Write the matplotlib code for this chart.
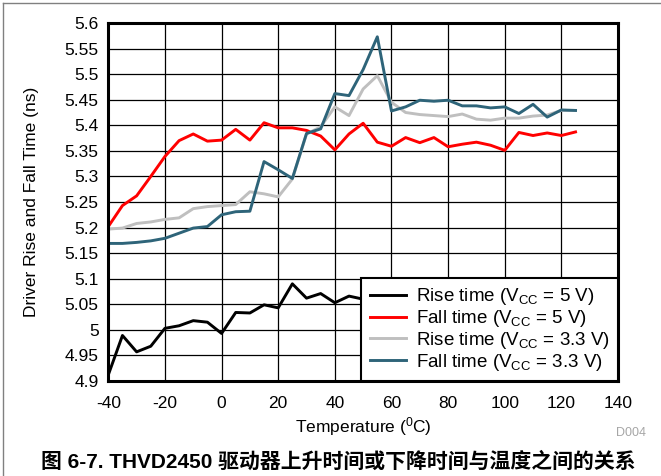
import matplotlib
matplotlib.use("Agg")
import matplotlib.pyplot as plt
from matplotlib.lines import Line2D

plt.rcParams['font.family'] = ['Liberation Sans', 'Noto Sans CJK SC', 'DejaVu Sans']
plt.rcParams['mathtext.fontset'] = 'custom'
plt.rcParams['mathtext.rm'] = 'Liberation Sans'
plt.rcParams['mathtext.it'] = 'Liberation Sans:italic'
plt.rcParams['mathtext.bf'] = 'Liberation Sans:bold'
plt.rcParams['axes.unicode_minus'] = False

temps = list(range(-40, 130, 5))
rise_5v_temps = list(range(-40, 60, 5))
rise_5v = [4.912, 4.989, 4.957, 4.968, 5.003, 5.008, 5.018, 5.015, 4.993, 5.034,
           5.033, 5.049, 5.043, 5.090, 5.062, 5.071, 5.053, 5.066, 5.060, 5.065]
fall_5v = [5.202, 5.243, 5.262, 5.300, 5.339, 5.370, 5.383, 5.369, 5.371, 5.392,
           5.371, 5.405, 5.395, 5.395, 5.390, 5.379, 5.352, 5.383, 5.404, 5.367,
           5.359, 5.376, 5.366, 5.376, 5.358, 5.363, 5.367, 5.361, 5.351, 5.386,
           5.380, 5.385, 5.380, 5.387]
rise_33v = [5.197, 5.199, 5.208, 5.211, 5.216, 5.219, 5.237, 5.241, 5.243, 5.245,
            5.270, 5.266, 5.260, 5.295, 5.383, 5.397, 5.436, 5.419, 5.471, 5.497,
            5.445, 5.425, 5.421, 5.419, 5.417, 5.422, 5.412, 5.410, 5.414, 5.414,
            5.418, 5.420, 5.429, 5.429]
fall_33v = [5.169, 5.169, 5.171, 5.174, 5.179, 5.189, 5.199, 5.202, 5.225, 5.231,
            5.232, 5.329, 5.313, 5.296, 5.384, 5.393, 5.462, 5.458, 5.509, 5.573,
            5.428, 5.436, 5.449, 5.447, 5.449, 5.438, 5.438, 5.434, 5.436, 5.423,
            5.441, 5.416, 5.430, 5.429]

labels = [r'Rise time (V$_\mathregular{CC}$ = 5 V)',
          r'Fall time (V$_\mathregular{CC}$ = 5 V)',
          r'Rise time (V$_\mathregular{CC}$ = 3.3 V)',
          r'Fall time (V$_\mathregular{CC}$ = 3.3 V)']
colors = ['#000000', '#FF0000', '#BFBFBF', '#2E6479']

xticks = list(range(-40, 141, 20))
yticks = [4.9, 4.95, 5.0, 5.05, 5.1, 5.15, 5.2, 5.25, 5.3, 5.35, 5.4, 5.45, 5.5, 5.55, 5.6]
ytick_labels = ['4.9', '4.95', '5', '5.05', '5.1', '5.15', '5.2', '5.25', '5.3',
                '5.35', '5.4', '5.45', '5.5', '5.55', '5.6']

FS = 12.5

fig = plt.figure(figsize=(6.61, 4.76), dpi=100)
ax = fig.add_axes([108.3/661, 1-381/476, (618-108.3)/661, (381-23)/476])

ax.plot(rise_5v_temps, rise_5v, color=colors[0], lw=2.1, label=labels[0])
ax.plot(temps, fall_5v, color=colors[1], lw=2.1, label=labels[1])
ax.plot(temps, rise_33v, color=colors[2], lw=2.1, label=labels[2])
ax.plot(temps, fall_33v, color=colors[3], lw=2.1, label=labels[3])

ax.set_xlim(-40, 140)
ax.set_ylim(4.9, 5.6)
ax.set_xticks(xticks)
ax.set_yticks(yticks)
ax.set_yticklabels(ytick_labels)
ax.tick_params(length=0, labelsize=FS)
ax.tick_params(axis='y', pad=7)
ax.tick_params(axis='x', pad=11)
ax.grid(True, color='#000000', lw=0.9)
ax.set_axisbelow(True)
for s in ax.spines.values():
    s.set_linewidth(2.2)
    s.set_color('black')

ax.set_xlabel(r'Temperature ($^\mathregular{0}$C)', fontsize=FS)
ax.xaxis.set_label_coords(0.5, -0.094)
ax.set_ylabel('Driver Rise and Fall Time (ns)', fontsize=FS)
ax.yaxis.set_label_coords(-0.135, 0.5)

leg = ax.legend(loc='lower right', fontsize=13.5, frameon=True, fancybox=False,
                framealpha=1, edgecolor='black', borderaxespad=0,
                handlelength=1.92, handletextpad=0.53, labelspacing=0.04,
                borderpad=0.45)
leg.get_frame().set_linewidth(1.5)

fig.text(646/661, 1-433/476, 'D004', ha='right', va='center', fontsize=9, color='#A6A6A6')
fig.text(338/661, 1-462/476, '图 6-7. THVD2450 驱动器上升时间或下降时间与温度之间的关系',
         ha='center', va='center', fontsize=15, fontweight='bold',
         family=['Liberation Sans', 'Noto Sans CJK SC'])

fig.add_artist(Line2D([2.5/661, 2.5/661], [0, 1-3/476], transform=fig.transFigure,
                      color='#808080', lw=1))
fig.add_artist(Line2D([2.5/661, 1], [1-3/476, 1-3/476], transform=fig.transFigure,
                      color='#808080', lw=1))

fig.savefig('out.png', dpi=100)
